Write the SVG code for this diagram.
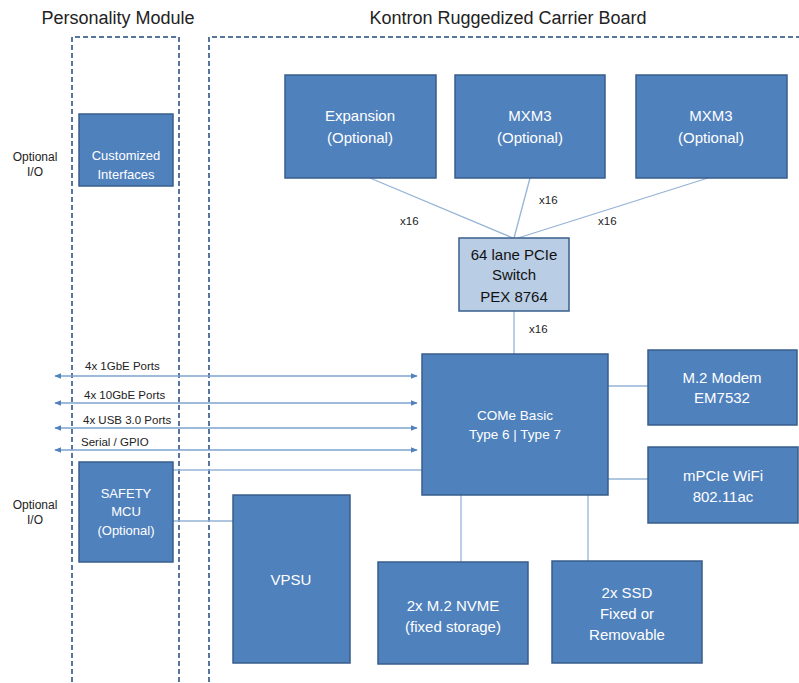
<svg xmlns="http://www.w3.org/2000/svg" width="799" height="683" viewBox="0 0 799 683">
<defs>
<style>
.box{fill:#4f81bd;stroke:#385d8a;stroke-width:1.5}
.sw{fill:#b9cde5;stroke:#385d8a;stroke-width:1.5}
.bt{font-family:"Liberation Sans",Arial,sans-serif;font-size:15px;fill:#fff;text-anchor:middle}
.st{font-family:"Liberation Sans",Arial,sans-serif;font-size:15px;fill:#111;text-anchor:middle}
.title{font-family:"Liberation Sans",Arial,sans-serif;font-size:18px;fill:#222;text-anchor:middle}
.lbl{font-family:"Liberation Sans",Arial,sans-serif;font-size:11.5px;fill:#222}
.dash{fill:none;stroke:#1f497d;stroke-width:1.5;stroke-dasharray:5,3}
.ln{stroke:#95b3d7;stroke-width:1.3;fill:none}
.ar{stroke:#7ea3cf;stroke-width:1.3;fill:none;marker-start:url(#ah);marker-end:url(#ah)}
</style>
<marker id="ah" viewBox="0 0 10 10" refX="9" refY="5" markerWidth="7" markerHeight="7" orient="auto-start-reverse" markerUnits="userSpaceOnUse">
<path d="M0,1 L10,5 L0,9 z" fill="#4f81bd"/>
</marker>
</defs>
<rect width="799" height="683" fill="#fff"/>
<text class="title" x="118" y="24">Personality Module</text>
<text class="title" x="508" y="24">Kontron Ruggedized Carrier Board</text>
<path class="dash" d="M72,690 V37 H179 V690"/>
<path class="dash" d="M209,690 V37 H805"/>
<text class="lbl" x="35" y="161" text-anchor="middle" style="font-size:12px">Optional</text>
<text class="lbl" x="35" y="176" text-anchor="middle" style="font-size:12px">I/O</text>
<text class="lbl" x="35" y="509" text-anchor="middle" style="font-size:12px">Optional</text>
<text class="lbl" x="35" y="524" text-anchor="middle" style="font-size:12px">I/O</text>
<g id="connectors">
<line class="ln" x1="370" y1="178" x2="513" y2="238"/>
<line class="ln" x1="530" y1="178" x2="514" y2="238"/>
<line class="ln" x1="708" y1="178" x2="518" y2="238"/>
<line class="ln" x1="514" y1="311" x2="514" y2="354"/>
<line class="ln" x1="608" y1="386" x2="648" y2="386"/>
<line class="ln" x1="608" y1="479" x2="648" y2="479"/>
<line class="ln" x1="461" y1="495" x2="461" y2="562"/>
<line class="ln" x1="588" y1="495" x2="588" y2="561"/>
<line class="ln" x1="173" y1="470" x2="422" y2="470"/>
<line class="ln" x1="173" y1="521" x2="233" y2="521"/>
<line class="ar" x1="55" y1="376" x2="417" y2="376"/>
<line class="ar" x1="55" y1="403" x2="417" y2="403"/>
<line class="ar" x1="55" y1="428" x2="417" y2="428"/>
<line class="ar" x1="55" y1="450" x2="417" y2="450"/>
<text class="lbl" x="85" y="370">4x 1GbE Ports</text>
<text class="lbl" x="84" y="399">4x 10GbE Ports</text>
<text class="lbl" x="83" y="424">4x USB 3.0 Ports</text>
<text class="lbl" x="81" y="446">Serial / GPIO</text>
<text class="lbl" x="400" y="225">x16</text>
<text class="lbl" x="539" y="204">x16</text>
<text class="lbl" x="598" y="225">x16</text>
<text class="lbl" x="529" y="333">x16</text>
</g>
<g id="customized"><rect class="box" x="79" y="114" width="94" height="72"/><text class="bt" style="font-size:13px"><tspan x="126" y="160">Customized</tspan><tspan x="126" y="179">Interfaces</tspan></text></g>
<g id="safety"><rect class="box" x="79" y="462" width="94" height="100"/><text class="bt" style="font-size:13px"><tspan x="126" y="498">SAFETY</tspan><tspan x="126" y="516">MCU</tspan><tspan x="126" y="535">(Optional)</tspan></text></g>
<g id="expansion"><rect class="box" x="285" y="75" width="151" height="103"/><text class="bt"><tspan x="360" y="121">Expansion</tspan><tspan x="360" y="143">(Optional)</tspan></text></g>
<g id="mxm3a"><rect class="box" x="455" y="75" width="150" height="103"/><text class="bt"><tspan x="530" y="121">MXM3</tspan><tspan x="530" y="143">(Optional)</tspan></text></g>
<g id="mxm3b"><rect class="box" x="636" y="75" width="151" height="103"/><text class="bt"><tspan x="711" y="121">MXM3</tspan><tspan x="711" y="143">(Optional)</tspan></text></g>
<g id="pcieswitch"><rect class="sw" x="459" y="238" width="110" height="73"/><text class="st"><tspan x="514" y="260">64 lane PCIe</tspan><tspan x="514" y="280">Switch</tspan><tspan x="514" y="302">PEX 8764</tspan></text></g>
<g id="come"><rect class="box" x="422" y="354" width="186" height="141"/><text class="bt" style="font-size:13.5px"><tspan x="515" y="420">COMe Basic</tspan><tspan x="515" y="439">Type 6 | Type 7</tspan></text></g>
<g id="modem"><rect class="box" x="648" y="350" width="149" height="75"/><text class="bt"><tspan x="722" y="383">M.2 Modem</tspan><tspan x="722" y="403">EM7532</tspan></text></g>
<g id="wifi"><rect class="box" x="648" y="447" width="150" height="76"/><text class="bt"><tspan x="723" y="481">mPCIe WiFi</tspan><tspan x="723" y="502">802.11ac</tspan></text></g>
<g id="vpsu"><rect class="box" x="233" y="495" width="117" height="168"/><text class="bt" x="291" y="585">VPSU</text></g>
<g id="nvme"><rect class="box" x="378" y="562" width="150" height="102"/><text class="bt"><tspan x="453" y="611">2x M.2 NVME</tspan><tspan x="453" y="632">(fixed storage)</tspan></text></g>
<g id="ssd"><rect class="box" x="552" y="561" width="150" height="102"/><text class="bt"><tspan x="627" y="598">2x SSD</tspan><tspan x="627" y="619">Fixed or</tspan><tspan x="627" y="640">Removable</tspan></text></g>
</svg>
